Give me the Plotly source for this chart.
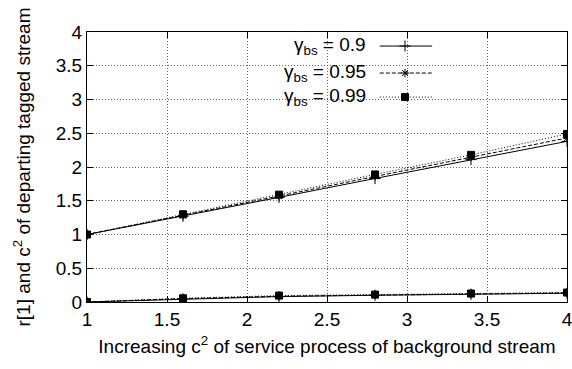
import plotly.graph_objects as go

# c^2 of the service process of the background stream
c2_bg = [1.0, 1.6, 2.2, 2.8, 3.4, 4.0]

# c^2 of the departing tagged stream, per gamma_bs
c2_dep_090 = [1.0, 1.27, 1.55, 1.83, 2.11, 2.38]
c2_dep_095 = [1.0, 1.28, 1.57, 1.86, 2.15, 2.43]
c2_dep_099 = [1.0, 1.30, 1.59, 1.89, 2.18, 2.49]

# lag-1 correlation r[1] of the departing tagged stream, per gamma_bs
r1_dep_090 = [0.0, 0.045, 0.080, 0.100, 0.115, 0.130]
r1_dep_095 = [0.0, 0.050, 0.085, 0.105, 0.120, 0.135]
r1_dep_099 = [0.0, 0.055, 0.095, 0.110, 0.125, 0.140]

gamma_labels = ["0.9", "0.95", "0.99"]

x_ticks = [1, 1.5, 2, 2.5, 3, 3.5, 4]
x_ticktext = ["1", "1.5", "2", "2.5", "3", "3.5", "4"]
y_ticks = [0, 0.5, 1, 1.5, 2, 2.5, 3, 3.5, 4]
y_ticktext = ["0", "0.5", "1", "1.5", "2", "2.5", "3", "3.5", "4"]

FONT = "Liberation Sans, Arial, Helvetica, sans-serif"
FS = 19

styles = [
    dict(dash="solid", symbol="cross-thin-open", msize=8),
    dict(dash="4px,2px", symbol="asterisk-open", msize=7),
    dict(dash="1px,2px", symbol="square", msize=7),
]

series = [
    (c2_dep_090, r1_dep_090),
    (c2_dep_095, r1_dep_095),
    (c2_dep_099, r1_dep_099),
]

fig = go.Figure()

for (c2s, r1s), st in zip(series, styles):
    for ys in (c2s, r1s):
        fig.add_trace(go.Scatter(
            x=c2_bg, y=ys, mode="lines+markers",
            line=dict(color="black", width=1, dash=st["dash"]),
            marker=dict(symbol=st["symbol"], size=st["msize"], color="black",
                        line=dict(color="black", width=1)),
            showlegend=False, hoverinfo="skip",
        ))

# Key: text on the left, line sample with marker on the right
row_y = [0.948, 0.848, 0.759]
sample_x = [0.610, 0.719]
mark_x = 0.6625
text_x = 0.585
for lab, st, ry in zip(gamma_labels, styles, row_y):
    fig.add_trace(go.Scatter(
        x=sample_x, y=[ry, ry], mode="lines", xaxis="x2", yaxis="y2",
        line=dict(color="black", width=1, dash=st["dash"]),
        showlegend=False, hoverinfo="skip",
    ))
    fig.add_trace(go.Scatter(
        x=[mark_x], y=[ry], mode="markers", xaxis="x2", yaxis="y2",
        marker=dict(symbol=st["symbol"], size=st["msize"], color="black",
                    line=dict(color="black", width=1)),
        showlegend=False, hoverinfo="skip",
    ))
    fig.add_annotation(
        x=text_x, y=ry, xref="x2", yref="y2", xanchor="right", yanchor="middle",
        text=f"\u03b3<sub>bs</sub> = {lab}", showarrow=False,
        font=dict(family=FONT, size=FS, color="black"),
    )

# White key background hiding the grid behind it
fig.add_shape(type="rect", xref="paper", yref="paper",
              x0=0.396, x1=0.742, y0=0.719, y1=1.0,
              fillcolor="white", line=dict(width=0), layer="between")

axis_common = dict(
    showline=True, linecolor="black", linewidth=1, mirror="ticks",
    ticks="inside", ticklen=6, tickcolor="black", tickwidth=1,
    showgrid=True, gridcolor="#666666", griddash="1px,2px", gridwidth=1,
    zeroline=False, ticklabeloverflow="allow",
    tickfont=dict(family=FONT, size=FS, color="black"),
)

fig.update_layout(
    width=572, height=369,
    margin=dict(l=87, r=5, t=32, b=67, autoexpand=False),
    paper_bgcolor="white", plot_bgcolor="white",
    font=dict(family=FONT, size=FS, color="black"),
    xaxis=dict(
        range=[1, 4], tickmode="array", tickvals=x_ticks, ticktext=x_ticktext,
        title=dict(text="Increasing c<sup>2</sup> of service process of background stream",
                   font=dict(family=FONT, size=FS), standoff=10),
        **axis_common,
    ),
    yaxis=dict(
        range=[0, 4], tickmode="array", tickvals=y_ticks, ticktext=y_ticktext,
        title=dict(text="r[1] and c<sup>2</sup> of departing tagged stream",
                   font=dict(family=FONT, size=FS), standoff=20),
        **axis_common,
    ),
    xaxis2=dict(range=[0, 1], overlaying="x", visible=False, fixedrange=True),
    yaxis2=dict(range=[0, 1], overlaying="y", visible=False, fixedrange=True),
    showlegend=False,
)

fig.write_html("out.html")
